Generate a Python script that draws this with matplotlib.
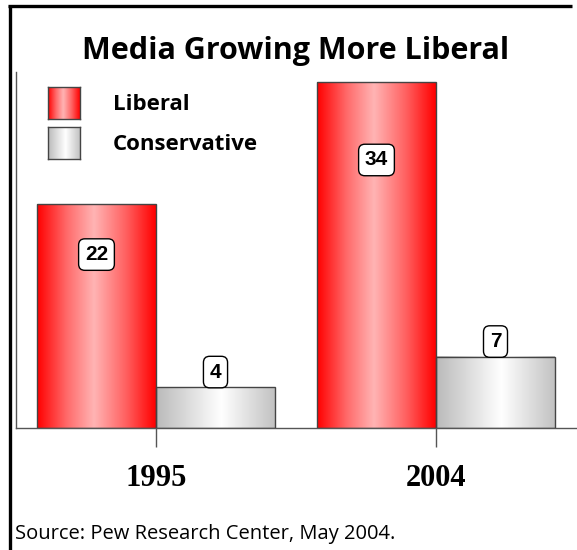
import numpy as np
import matplotlib.pyplot as plt
from matplotlib.colors import LinearSegmentedColormap
from matplotlib.lines import Line2D

years = ['1995', '2004']
liberal = [22, 34]
conservative = [4, 7]
series_names = ['Liberal', 'Conservative']

# shiny cylinder-like fills
red_shine = LinearSegmentedColormap.from_list(
    'red_shine', [(0, '#ff0000'), (0.25, '#ff6a6a'), (0.48, '#ffb4b4'), (0.75, '#ff6060'), (1, '#ff0000')])
gray_shine = LinearSegmentedColormap.from_list(
    'gray_shine', [(0, '#bababa'), (0.55, '#ffffff'), (1, '#c2c2c2')])
ramp = np.linspace(0, 1, 256).reshape(1, -1)

fig = plt.figure(figsize=(5.77, 5.5), dpi=100)
ax = fig.add_axes([16 / 577, 122 / 550, 560 / 577, 356 / 550])

x = np.arange(len(years))
w = 0.425
lib_bars = ax.bar(x - w / 2, liberal, w, facecolor='none', edgecolor='#444444', lw=1, zorder=3)
con_bars = ax.bar(x + w / 2, conservative, w, facecolor='none', edgecolor='#444444', lw=1, zorder=3)


def shade(bars, cmap):
    for b in bars:
        ax.imshow(ramp, cmap=cmap, aspect='auto', interpolation='bicubic', zorder=2,
                  extent=[b.get_x(), b.get_x() + b.get_width(), 0, b.get_height()])


shade(lib_bars, red_shine)
shade(con_bars, gray_shine)

box = dict(boxstyle='round,pad=0.3,rounding_size=0.3', fc='white', ec='black', lw=1)
for b, v in zip(lib_bars, liberal):
    ax.text(b.get_x() + b.get_width() / 2, v * 0.775, str(v), ha='center', va='center',
            fontsize=15, fontweight='bold', family='Liberation Sans', bbox=box, zorder=5)
for b, v in zip(con_bars, conservative):
    ax.text(b.get_x() + b.get_width() / 2, v + 1.5, str(v), ha='center', va='center',
            fontsize=15, fontweight='bold', family='Liberation Sans', bbox=box, zorder=5)

ax.set_xlim(-0.5, 1.5)
ax.set_ylim(0, 35)
ax.set_yticks([])
ax.set_xticks(x, years)
ax.tick_params(axis='x', length=14, color='#555555', width=1, pad=12, labelsize=22)
for lbl in ax.get_xticklabels():
    lbl.set_family('Liberation Serif')
    lbl.set_fontweight('bold')
for side in ['top', 'right']:
    ax.spines[side].set_visible(False)
for side in ['left', 'bottom']:
    ax.spines[side].set_color('#555555')
    ax.spines[side].set_linewidth(1)

# legend swatches drawn as tiny axes so they can carry the gradient
for i, (name, cmap) in enumerate(zip(series_names, [red_shine, gray_shine])):
    top = 87 + i * 40
    sw = fig.add_axes([48 / 577, (550 - top - 32) / 550, 32 / 577, 32 / 550])
    sw.imshow(ramp, cmap=cmap, aspect='auto', interpolation='bicubic')
    sw.set_xticks([])
    sw.set_yticks([])
    for s in sw.spines.values():
        s.set_color('#444444')
        s.set_linewidth(1)
    fig.text(113 / 577, (550 - top - 17) / 550, name, ha='left', va='center',
             fontsize=16, fontweight='bold', family='Open Sans')

fig.text(296 / 577, (550 - 59) / 550, 'Media Growing More Liberal', ha='center', va='baseline',
         fontsize=22, fontweight='bold', family='Open Sans')
fig.text(15 / 577, (550 - 539) / 550, 'Source: Pew Research Center, May 2004.', ha='left',
         va='baseline', fontsize=14.5, family='Open Sans')

# frame along the top and left edge
fig.add_artist(Line2D([8 / 577, 572 / 577], [1 - 5.5 / 550] * 2, color='black', lw=2.4,
                      solid_capstyle='butt'))
fig.add_artist(Line2D([9.5 / 577] * 2, [0, 1 - 4.5 / 550], color='black', lw=2.4,
                      solid_capstyle='butt'))

fig.savefig('out.png', dpi=100)
